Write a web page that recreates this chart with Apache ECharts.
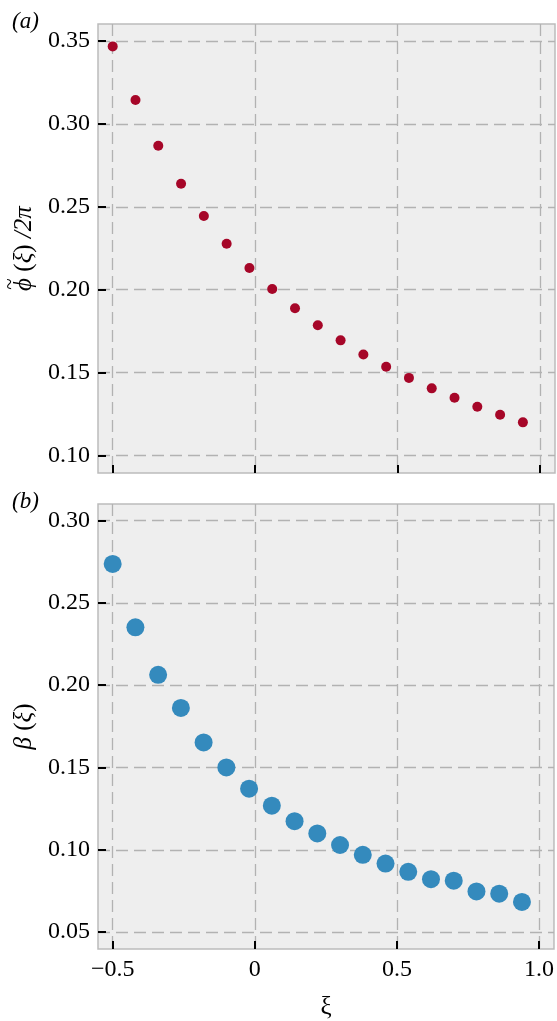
<!DOCTYPE html>
<html>
<head>
<meta charset="utf-8">
<script src="https://cdn.jsdelivr.net/npm/echarts@6/dist/echarts.min.js"></script>
<style>
html,body{margin:0;padding:0;background:#fff;}
#chart{width:557px;height:1021px;}
</style>
</head>
<body>
<div id="chart"></div>
<script>
// ---- data ----
const xi = [-0.50, -0.42, -0.34, -0.26, -0.18, -0.10, -0.02, 0.06, 0.14, 0.22, 0.30, 0.38, 0.46, 0.54, 0.62, 0.70, 0.78, 0.86, 0.94];
const phiOver2pi = [0.3466, 0.3143, 0.2868, 0.2639, 0.2444, 0.2277, 0.2131, 0.2004, 0.1888, 0.1786, 0.1695, 0.1610, 0.1536, 0.1469, 0.1406, 0.1349, 0.1295, 0.1247, 0.1201];
const beta = [0.2737, 0.2352, 0.2063, 0.1862, 0.1652, 0.1500, 0.1371, 0.1268, 0.1174, 0.1099, 0.1029, 0.0969, 0.0916, 0.0866, 0.0821, 0.0812, 0.0747, 0.0733, 0.0683];
const xTicks = [-0.5, 0, 0.5, 1.0];
const xTickLabels = ['\u22120.5', '0', '0.5', '1.0'];
const yTicksTop = [0.10, 0.15, 0.20, 0.25, 0.30, 0.35];
const yTicksBottom = [0.05, 0.10, 0.15, 0.20, 0.25, 0.30];
const panelLabels = ['(a)', '(b)'];
const yNameTop = '{i|\u03D5}{n| (}{i|\u03BE}{n|) }{i|/2\u03C0}';
const yNameBottom = '{i|\u03B2}{n| (}{i|\u03BE}{n|)}';
const xName = '\u03BE';

const FONT = '"Liberation Serif", "Times New Roman", serif';
const pairs = (xs, ys) => xs.map((x, i) => [x, ys[i]]);
const nameRich = {
  i: { fontFamily: FONT, fontSize: 25, fontStyle: 'italic', color: '#000' },
  n: { fontFamily: FONT, fontSize: 25, fontStyle: 'normal', color: '#000' }
};

function xAxisCfg(gridIndex, showLabels) {
  return {
    type: 'value', gridIndex: gridIndex, min: -0.5516, max: 1.0527,
    axisLine: { show: false, onZero: false },
    axisTick: { show: true, inside: true, length: 8, customValues: xTicks, lineStyle: { color: '#000', width: 2 } },
    axisLabel: {
      show: showLabels, customValues: xTicks, margin: 9,
      fontFamily: FONT, fontSize: 24, color: '#000',
      formatter: v => { const i = xTicks.findIndex(t => Math.abs(t - v) < 1e-9); return i >= 0 ? xTickLabels[i] : ''; }
    },
    splitLine: { show: true, lineStyle: { color: '#b2b2b2', width: 1.3, type: [12, 6] } },
    name: showLabels ? xName : '', nameLocation: 'middle', nameGap: 46,
    nameTextStyle: { fontFamily: FONT, fontSize: 25, color: '#000' }
  };
}
function yAxisCfg(gridIndex, min, max, ticks, name) {
  return {
    type: 'value', gridIndex: gridIndex, min: min, max: max,
    axisLine: { show: false, onZero: false },
    axisTick: { show: true, inside: true, length: 8, customValues: ticks, lineStyle: { color: '#000', width: 2 } },
    axisLabel: {
      customValues: ticks, margin: 8,
      fontFamily: FONT, fontSize: 24, color: '#000',
      formatter: v => v.toFixed(2)
    },
    splitLine: { show: true, lineStyle: { color: '#b2b2b2', width: 1.3, type: [12, 6] } },
    name: name, nameLocation: 'middle', nameGap: 60, nameRotate: 90,
    nameTextStyle: { fontFamily: FONT, fontSize: 25, color: '#000', rich: nameRich }
  };
}

const chart = echarts.init(document.getElementById('chart'), null, { renderer: 'canvas' });
chart.setOption({
  animation: false,
  backgroundColor: '#ffffff',
  title: [
    { text: panelLabels[0], left: 7, top: 5, textStyle: { fontFamily: FONT, fontSize: 23, fontStyle: 'italic', fontWeight: 'normal', color: '#000' } },
    { text: panelLabels[1], left: 7, top: 485, textStyle: { fontFamily: FONT, fontSize: 23, fontStyle: 'italic', fontWeight: 'normal', color: '#000' } }
  ],
  graphic: [
    { type: 'text', x: 10, y: 284, rotation: Math.PI / 2,
      style: { text: '~', fontFamily: FONT, fontSize: 21, fill: '#000', align: 'center', verticalAlign: 'middle' } }
  ],
  grid: [
    { left: 98, top: 24, width: 457, height: 449, show: true, backgroundColor: '#eeeeee', borderColor: '#bcbcbc', borderWidth: 1.5 },
    { left: 98, top: 504, width: 457, height: 449, show: true, backgroundColor: '#eeeeee', borderColor: '#bcbcbc', borderWidth: 1.5 }
  ],
  xAxis: [xAxisCfg(0, false), xAxisCfg(1, true)],
  yAxis: [
    yAxisCfg(0, 0.0896, 0.3601, yTicksTop, yNameTop),
    yAxisCfg(1, 0.0397, 0.3101, yTicksBottom, yNameBottom)
  ],
  series: [
    { type: 'scatter', xAxisIndex: 0, yAxisIndex: 0, data: pairs(xi, phiOver2pi), symbolSize: 10, itemStyle: { color: '#A60628', opacity: 1 } },
    { type: 'scatter', xAxisIndex: 1, yAxisIndex: 1, data: pairs(xi, beta), symbolSize: 18, itemStyle: { color: '#348ABD', opacity: 1 } }
  ]
});
</script>
</body>
</html>
